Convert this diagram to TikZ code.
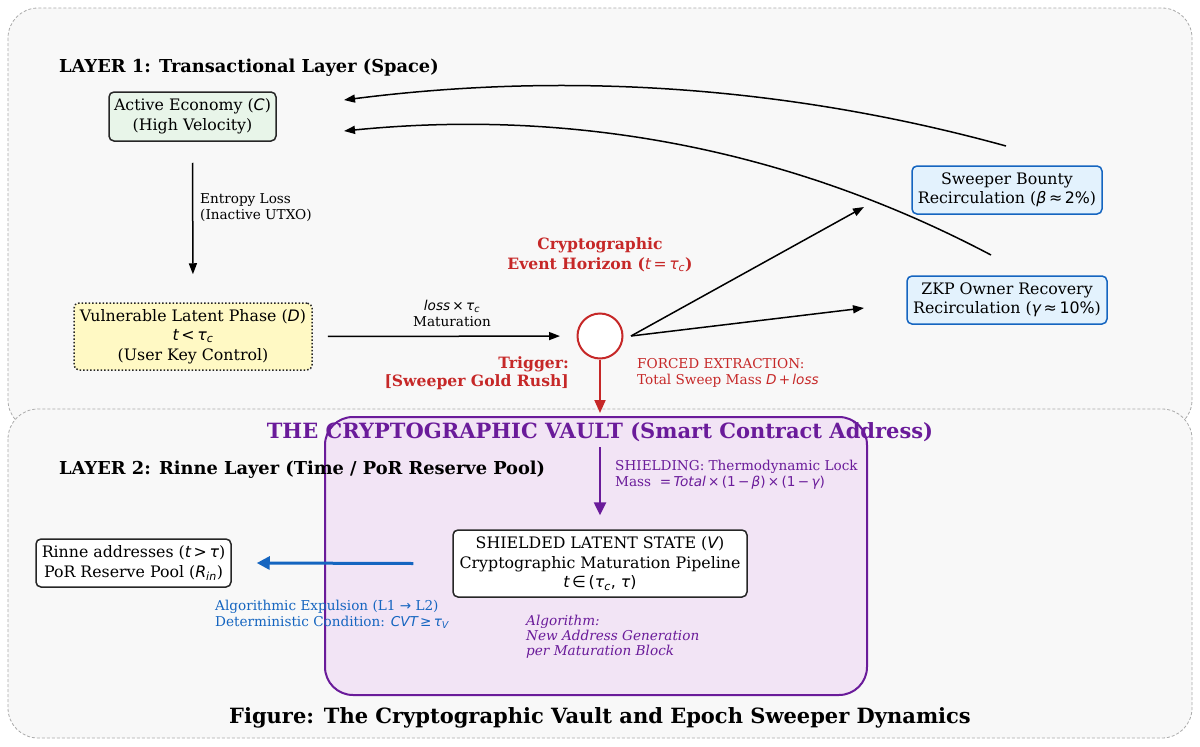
\documentclass[tikz,border=0pt]{standalone}
\usepackage{fontspec}
\setmainfont{DejaVu Serif}
\newfontfamily\dvs{DejaVu Sans}
\usetikzlibrary{arrows.meta}
\definecolor{layerfill}{RGB}{248,248,248}
\definecolor{layerdraw}{RGB}{170,170,170}
\definecolor{greenfill}{RGB}{232,245,233}
\definecolor{yellowfill}{RGB}{255,249,196}
\definecolor{bluefill}{RGB}{227,242,253}
\definecolor{bluedraw}{RGB}{21,101,192}
\definecolor{redc}{RGB}{198,40,40}
\definecolor{purplec}{RGB}{106,27,154}
\definecolor{vaultfill}{RGB}{242,228,245}
\newcommand{\dvI}[1]{{\dvs\mdseries\itshape #1}}
\newcommand{\dvR}[1]{{\dvs\mdseries\upshape #1}}
\newcommand{\dvsb}[1]{\textsubscript{\dvI{#1}}}
\tikzset{
  mainfont/.style={font=\fontsize{15.8}{19.5}\selectfont},
  smallfont/.style={font=\fontsize{13.6}{16}\selectfont},
  layerbox/.style={draw=layerdraw, fill=layerfill, line width=0.8pt, dash pattern=on 3pt off 2pt, rounded corners=30pt},
  vaultbox/.style={draw=purplec, fill=vaultfill, line width=2pt, rounded corners=28pt},
  statebox/.style={draw=black!85, line width=1.5pt, rounded corners=5pt, align=center, inner sep=2pt, mainfont},
  bluebox/.style={statebox, draw=bluedraw, fill=bluefill},
  plain/.style={inner sep=0pt},
  tip/.style={-{Triangle[length=11pt,width=8pt]}},
  blackarrow/.style={tip, line width=1.5pt, draw=black},
}
\begin{document}
\begin{tikzpicture}[x=1pt,y=-1pt]
\useasboundingbox (0,0) rectangle (1200,747);
% layer backgrounds
\draw[layerbox] (8,8) rectangle (1192,430);
\draw[layerbox] (8,409) rectangle (1192,738);
\draw[vaultbox] (325,417) rectangle (867,695);

% titles
\node[plain, anchor=west, font=\fontsize{17.8}{21}\selectfont\bfseries] (l1) at (59,68) {LAYER 1: Transactional Layer (Space)};
\node[plain, anchor=west, font=\fontsize{17.8}{21}\selectfont\bfseries] (l2) at (59,470) {LAYER 2: Rinne Layer (Time / PoR Reserve Pool)};
\node[plain, text=purplec, font=\fontsize{21}{25}\selectfont\bfseries] (vt) at (600,432) {THE CRYPTOGRAPHIC VAULT (Smart Contract Address)};
\node[plain, font=\fontsize{21}{25}\selectfont\bfseries] (ft) at (600,718) {Figure: The Cryptographic Vault and Epoch Sweeper Dynamics};

% nodes
\node[statebox, fill=greenfill, minimum width=167pt, minimum height=49pt] (C) at (192.5,116.5) {Active Economy (\dvI{C})\\(High Velocity)};
\node[statebox, fill=yellowfill, dotted, line width=1.5pt, minimum width=238pt, minimum height=67pt] (D) at (193,336.5) {Vulnerable Latent Phase (\dvI{D})\\\dvI{t}\,\dvR{<}\,\dvI{τ}\dvsb{c}\\(User Key Control)};
\node[bluebox, minimum width=190pt, minimum height=48pt] (B) at (1007,190) {Sweeper Bounty\\Recirculation (\dvI{β}\,\dvR{≈}\,\dvR{2\%})};
\node[bluebox, minimum width=200pt, minimum height=48pt] (Z) at (1007,300) {ZKP Owner Recovery\\Recirculation (\dvI{γ}\,\dvR{≈}\,\dvR{10\%})};
\node[statebox, fill=white, minimum width=195pt, minimum height=48pt] (R) at (133.5,563) {Rinne addresses (\dvI{t}\,\dvR{>}\,\dvI{τ})\\PoR Reserve Pool (\dvI{R}\dvsb{in})};
\node[statebox, fill=white, minimum width=294pt, minimum height=67pt] (V) at (600,563.5) {SHIELDED LATENT STATE (\dvI{V})\\Cryptographic Maturation Pipeline\\\dvI{t}\,\dvR{∈}\,\dvR{(}\dvI{τ}\dvsb{c}\dvR{,} \dvI{τ}\dvR{)}};
\node[circle, draw=redc, fill=white, line width=2pt, minimum size=45pt, inner sep=0pt] (H) at (600,336) {};

% labels
\node[plain, smallfont, anchor=west, align=left] (el) at (200,208) {Entropy Loss\\(Inactive UTXO)};
\node[plain, smallfont, align=center] (ml) at (452,313) {\dvI{loss}\,\dvR{×}\,\dvI{τ}\dvsb{c}\\Maturation};
\node[plain, text=redc, font=\fontsize{15.6}{19.5}\selectfont\bfseries, align=center] (eh) at (600,255) {Cryptographic\\Event Horizon (\dvI{t}\,\dvR{=}\,\dvI{τ}\dvsb{c})};
\node[plain, text=redc, font=\fontsize{15.6}{18.5}\selectfont\bfseries, align=right, anchor=east] (tr) at (569,373) {Trigger:\\{[Sweeper Gold Rush]}};
\node[plain, text=redc, smallfont, align=left, anchor=west] (fe) at (637,372.5) {FORCED EXTRACTION:\\Total Sweep Mass \dvI{D}\,\dvR{+}\,\dvI{loss}};
\node[plain, text=purplec, smallfont, align=left, anchor=west] (sh) at (615,475) {SHIELDING: Thermodynamic Lock\\Mass \ \dvR{=}\,\dvI{Total}\,\dvR{×}\,\dvR{(1\,−\,}\dvI{β}\dvR{)}\,\dvR{×}\,\dvR{(1\,−\,}\dvI{γ}\dvR{)}};
\node[plain, text=bluedraw, smallfont, align=left, anchor=west] (al) at (215,614.5) {Algorithmic Expulsion (L1 \dvR{→} L2)\\Deterministic Condition: \dvI{CVT}\,\dvR{≥}\,\dvI{τ}\dvsb{V}};
\node[plain, text=purplec, font=\fontsize{13.6}{14.8}\selectfont\itshape, align=left, anchor=west] (ag) at (526,637) {Algorithm:\\New Address Generation\\per Maturation Block};

% coordinates for free ends
\coordinate (hs) at (631,336);
\coordinate (bt) at (864,207);
\coordinate (zt) at (864,308);
\coordinate (bs) at (1006,146);
\coordinate (zs) at (991,255);
\coordinate (ct1) at (344,100);
\coordinate (ct2) at (344,131);

% connectors
\draw[blackarrow, shorten <=21pt, shorten >=28pt] (C.south) -- (D.north);
\draw[blackarrow, shorten <=15pt, shorten >=40pt] (D.east) -- (H.center);
\draw[blackarrow] (hs) -- (bt);
\draw[blackarrow] (hs) -- (zt);
\draw[blackarrow] (bs) .. controls (792,87) and (571,71) .. (ct1);
\draw[blackarrow] (zs) .. controls (792,150) and (576,108) .. (ct2);
\draw[draw=redc, line width=2pt, -{Triangle[length=13pt,width=11pt]}] (H.south) -- (600,413);
\draw[draw=purplec, line width=2.5pt, -{Triangle[length=13pt,width=12pt]}, shorten >=14pt] (600,447) -- (V.north);
\draw[draw=bluedraw, line width=3pt, -{Triangle[length=13pt,width=13pt]}] (V.west) ++(-39pt,0) coordinate (bsrc) (bsrc) -- ([xshift=25pt]R.east);
\end{tikzpicture}
\end{document}
